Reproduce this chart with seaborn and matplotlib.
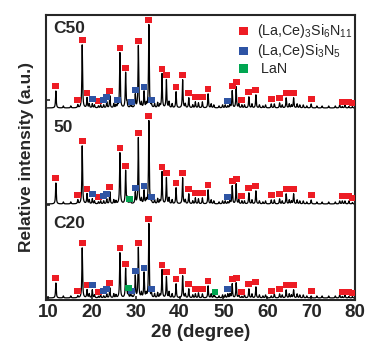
import numpy as np
import pandas as pd
import matplotlib
matplotlib.use("Agg")
import matplotlib.pyplot as plt
import seaborn as sns

# ---------------- data ----------------
samples = ["C50", "50", "C20"]
baselines = [192, 96, 2]          # vertical offset of each pattern (a.u.)

# (La,Ce)3Si6N11 reflections (2theta) and marker heights above baseline per sample
red_pos = [11.8, 16.8, 17.8, 18.9, 21.5, 24.1, 26.4, 27.7, 30.6, 33.0, 36.0, 37.0,
           39.2, 40.7, 42.1, 43.6, 45.2, 46.5, 52.0, 52.9, 54.2, 55.8, 57.4, 60.9,
           62.8, 64.3, 66.0, 70.0, 77.1, 78.6, 79.4]
red_c50 = [22, 8, 68, 15, 7, 17, 60, 40, 67, 88, 39, 33, 21, 33, 15, 11, 11, 19,
           22, 26, 8, 16, 18, 9, 10, 15, 15, 9, 6, 6, 5]
red_50 = [26, 9, 63, 15, 7, 17, 56, 38, 71, 88, 37, 31, 21, 31, 15, 11, 11, 19,
          23, 25, 8, 16, 18, 9, 10, 15, 15, 9, 8, 8, 6]
red_c20 = [20, 7, 55, 13, 6, 15, 50, 34, 55, 79, 33, 26, 19, 27, 14, 9, 9, 17,
           19, 20, 6, 14, 16, 7, 9, 13, 13, 7, 6, 6, 5]

# (La,Ce)Si3N5 reflections
blue_pos_c50 = [20.1, 22.7, 23.4, 25.9, 29.1, 29.9, 31.9, 33.6, 51.0]
blue_c50 = [9, 8, 11, 8, 6, 18, 21, 8, 7]
blue_pos_50 = [20.1, 22.7, 23.4, 29.9, 31.9, 33.6, 51.0]
blue_50 = [10, 8, 10, 16, 18, 7, 7]
blue_pos_c20 = [20.1, 22.7, 23.4, 29.1, 29.9, 31.9, 33.6, 51.0]
blue_c20 = [13, 7, 9, 7, 27, 30, 9, 9]

# LaN reflections
green_pos_50 = [28.5]
green_50 = [5]
green_pos_c20 = [28.3, 48.1]
green_c20 = [10, 6]

# small unindexed reflections (background texture)
minor_pos = [13.5, 15.2, 19.4, 20.6, 22.0, 25.0, 25.5, 28.0, 28.8, 31.3, 32.4,
             34.3, 35.0, 35.5, 37.6, 38.3, 41.3, 43.0, 44.3, 47.2, 47.8, 49.0,
             49.8, 50.4, 51.5, 53.5, 54.8, 56.5, 58.2, 59.0, 59.6, 61.6, 63.4,
             65.0, 65.5, 66.8, 67.4, 68.2, 69.0, 71.3, 72.5, 74.0, 75.5, 76.5, 77.7]
minor_h = [2, 2, 4, 3, 3, 4, 3, 5, 3, 5, 4, 4, 5, 3, 6, 4, 4, 3, 5, 4, 3, 2,
           3, 3, 4, 4, 3, 4, 3, 2, 3, 4, 3, 4, 3, 4, 3, 3, 2, 2, 2, 2, 2, 3, 3]

legend_labels = [r"(La,Ce)$_3$Si$_6$N$_{11}$", r"(La,Ce)Si$_3$N$_5$", " LaN"]
xticks = [10, 20, 30, 40, 50, 60, 70, 80]

RED, BLUE, GREEN = "#ED1C24", "#2E54A4", "#00A651"

# ---------------- build tables ----------------
sets = {
    "C50": [(red_pos, red_c50, "red"), (blue_pos_c50, blue_c50, "blue")],
    "50": [(red_pos, red_50, "red"), (blue_pos_50, blue_50, "blue"),
           (green_pos_50, green_50, "green")],
    "C20": [(red_pos, red_c20, "red"), (blue_pos_c20, blue_c20, "blue"),
            (green_pos_c20, green_c20, "green")],
}
gap = 5
x = np.arange(9.55, 80.001, 0.01)
gam = 0.09
line_rows, mark_rows = [], []
for name, base in zip(samples, baselines):
    y = np.full_like(x, float(base))
    for pos, hts, ph in sets[name]:
        for p, h in zip(pos, hts):
            ph_h = max(h - gap, 1.5)
            y += ph_h * gam**2 / ((x - p) ** 2 + gam**2)
            mark_rows.append({"x": p, "y": base + h, "phase": ph})
    for p, h in zip(minor_pos, minor_h):
        y += h * gam**2 / ((x - p) ** 2 + gam**2)
    line_rows.append(pd.DataFrame({"x": x, "y": y, "sample": name}))
lines = pd.concat(line_rows, ignore_index=True)
marks = pd.DataFrame(mark_rows)

# ---------------- plot ----------------
sns.set_style("ticks")
plt.rcParams["font.family"] = ["Liberation Sans", "DejaVu Sans"]
plt.rcParams["mathtext.fontset"] = "custom"
plt.rcParams["mathtext.rm"] = "Liberation Sans"
plt.rcParams["mathtext.it"] = "Liberation Sans"
plt.rcParams["mathtext.bf"] = "Liberation Sans:bold"
plt.rcParams["mathtext.default"] = "regular"

fig = plt.figure(figsize=(3.66, 3.43), dpi=100)
ax = fig.add_axes([0.1257, 0.1254, 0.8443, 0.8309])

sns.lineplot(data=lines, x="x", y="y", units="sample", estimator=None,
             sort=False, color="black", linewidth=0.9, ax=ax)
sns.scatterplot(data=marks, x="x", y="y", hue="phase",
                palette={"red": RED, "blue": BLUE, "green": GREEN},
                marker="s", s=24, edgecolor="none", legend=False, ax=ax, zorder=3)

ax.set_xlim(9.55, 80)
ax.set_ylim(0, 285)
ax.set_xticks(xticks)
ax.set_xticklabels([str(t) for t in xticks], fontsize=13.5, fontweight="bold")
ax.set_yticks([95, 200])
ax.set_yticklabels([])
ax.tick_params(axis="both", direction="in", length=3, width=1.2, pad=3)
ax.set_xlabel("2θ (degree)", fontsize=13.5, fontweight="bold", labelpad=2)
ax.set_ylabel("Relative intensity (a.u.)", fontsize=12.5, fontweight="bold", labelpad=6)
for sp in ax.spines.values():
    sp.set_linewidth(1.5)
    sp.set_visible(True)

for name, yf in zip(samples, [0.951, 0.604, 0.267]):
    ax.text(0.023, yf, name, transform=ax.transAxes, fontsize=12.5,
            fontweight="bold", va="center", ha="left")

for lab, col, yf in zip(legend_labels, [RED, BLUE, GREEN], [0.944, 0.874, 0.811]):
    ax.scatter([0.638], [yf], transform=ax.transAxes, marker="s", s=40,
               color=col, edgecolor="none")
    ax.text(0.683, yf, lab, transform=ax.transAxes, fontsize=10.3,
            va="center", ha="left")

fig.savefig("out.png", dpi=100)
